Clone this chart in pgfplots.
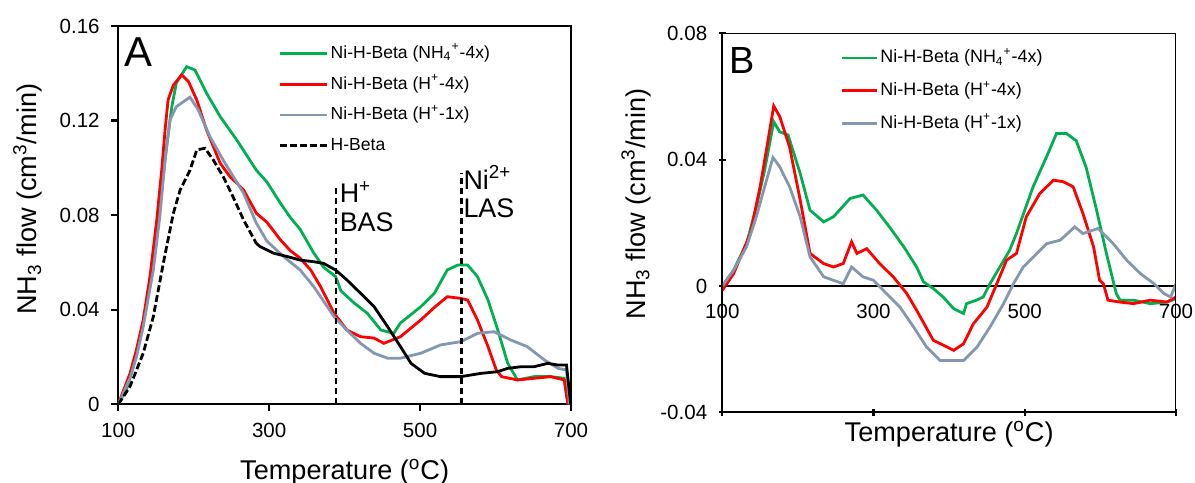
\documentclass[border=0pt]{standalone}
\usepackage{fontspec}
\setmainfont{Liberation Sans}
\usepackage{pgfplots}
\pgfplotsset{compat=1.18}
\definecolor{cgreen}{RGB}{0,176,80}
\definecolor{cred}{RGB}{255,0,0}
\definecolor{cgray}{RGB}{132,151,176}
\pgfplotsset{
  common/.style={
    scale only axis,
    xmin=100, xmax=700,
    xtick={100,300,500,700},
    scaled y ticks=false,
    tick align=outside,
    tick pos=left,
    major tick length=3.5bp,
    axis line style={line width=1.1bp},
    every tick/.style={line width=1.1bp, black},
    /pgf/number format/assume math mode=true,
    /pgf/number format/fixed,
    /pgf/number format/precision=2,
    tick label style={font=\fontsize{10.3}{12}\selectfont},
    label style={font=\fontsize{13.6}{16}\selectfont},
    legend cell align=left,
    legend image code/.code={\draw[##1] (0bp,0bp) -- (23.5bp,0bp);},
  },
  curve/.style={line width=1.4bp},
}
\begin{document}
\begin{tikzpicture}
\useasboundingbox (0,0) rectangle (597.5bp,241.5bp);
% ---------------- Panel A ----------------
\begin{axis}[common,
  at={(59.15bp,39.35bp)}, anchor=south west,
  width=226.35bp, height=189.15bp,
  ymin=0, ymax=0.16,
  ytick={0,0.04,0.08,0.12,0.16},
  xticklabel style={yshift=-2.5bp},
  yticklabel style={xshift=-2.3bp},
  xlabel={Temperature (\textsuperscript{o}C)},
  ylabel={NH\textsubscript{3} flow (cm\textsuperscript{3}/min)},
  xlabel style={at={(axis description cs:0.5,-0.2)}, anchor=base},
  ylabel style={at={(axis description cs:-0.2,0.542)}, anchor=center},
  legend style={at={(axis description cs:0.353,0.959)}, anchor=north west,
    draw=none, fill=none, inner sep=0pt, row sep=4bp,
    font=\fontsize{8.8}{10}\selectfont,
    nodes={inner sep=1.2bp, text height=7bp, text depth=2bp}},
]
\addplot[curve, cgreen] coordinates {
(100,0) (111,0.0065) (124,0.021) (133,0.034) (146.5,0.061) (155,0.0836) (164,0.109) (171,0.126) (177,0.136) (190.6,0.1428) (201.6,0.1414) (217,0.1316) (235,0.1217) (257,0.1118) (283,0.099) (297,0.094) (315,0.085) (328,0.079) (341,0.074) (359,0.064) (372,0.058) (388,0.054) (395,0.048) (412,0.043) (430,0.0385) (448,0.0314) (465,0.030) (474,0.0344) (501,0.0413) (519,0.047) (536,0.0568) (550,0.0589) (563,0.0589) (576,0.054) (590,0.0441) (603,0.0314) (616,0.0175) (629,0.0103) (651,0.0117) (673,0.0117) (691,0.011) (696,0)
};
\addlegendentry{Ni-H-Beta (NH\textsubscript{4}\textsuperscript{+}-4x)}
\addplot[curve, cred] coordinates {
(100,0) (102,0.0018) (115.5,0.013) (124,0.023) (133,0.0357) (142,0.054) (151,0.078) (157.5,0.099) (162,0.116) (166,0.1287) (173,0.135) (184,0.1393) (193,0.1365) (204,0.1287) (217,0.116) (235,0.102) (248,0.0963) (266,0.0907) (283,0.0808) (297,0.077) (315,0.0695) (328,0.065) (341,0.0618) (355,0.0568) (368,0.0498) (386,0.0385) (403,0.0314) (421,0.0286) (439,0.028) (452,0.0258) (474,0.0286) (501,0.0357) (519,0.041) (536,0.0455) (554,0.0448) (563,0.0441) (576,0.0357) (590,0.0244) (601,0.0145) (608,0.0117) (629,0.0103) (651,0.011) (673,0.0117) (691,0.0103) (696,0)
};
\addlegendentry{Ni-H-Beta (H\textsuperscript{+}-4x)}
\addplot[curve, cgray] coordinates {
(100,0) (115.5,0.011) (124,0.02) (133,0.0328) (146.4,0.0568) (155,0.0794) (162,0.1033) (168.5,0.1203) (177,0.1259) (195,0.1299) (206,0.1245) (221.5,0.1132) (239,0.1033) (266,0.0893) (283,0.0766) (297,0.069) (319,0.0625) (341,0.0568) (359,0.0498) (377,0.0413) (386,0.037) (403,0.0314) (421,0.0258) (439,0.0216) (457,0.0195) (474,0.0195) (501,0.0216) (527,0.0251) (554,0.0265) (576,0.030) (598,0.0307) (620,0.0272) (642,0.0244) (665,0.0187) (683,0.0152) (694,0.0145) (698,0)
};
\addlegendentry{Ni-H-Beta (H\textsuperscript{+}-1x)}
\addplot[curve, black, dash pattern=on 3.5bp off 1.5bp] coordinates {
(100,0) (115.5,0.0075) (133,0.0216) (146.4,0.037) (159.6,0.0596) (173,0.0808) (182,0.0907) (195,0.099) (204,0.1076) (215,0.1083) (226,0.1033) (239,0.0963) (252,0.0878) (266,0.078) (283,0.068)
};
\addlegendentry{H-Beta}
\addplot[curve, black, forget plot] coordinates {
(283,0.068) (288,0.0667) (306,0.0639) (324,0.0625) (341,0.061) (359,0.0603) (372,0.0596) (388,0.0568) (403,0.0526) (421,0.047) (439,0.0413) (457,0.0328) (474,0.0244) (488,0.0173) (506,0.0131) (527,0.0117) (554,0.0117) (581,0.0131) (603,0.0138) (616,0.0152) (634,0.0159) (651,0.0159) (669,0.0173) (683,0.0166) (694,0.0166) (700,-0.001)
};
\addplot[line width=1.2bp, black, dash pattern=on 3bp off 2bp, forget plot] coordinates {(388.5,0) (388.5,0.0927)};
\addplot[line width=1.2bp, black, dash pattern=on 3bp off 2bp, forget plot] coordinates {(554.8,0) (554.8,0.0978)};
\node[anchor=base west, inner sep=0pt, font=\fontsize{21}{24}\selectfont] at (axis description cs:0.0126,0.892) {A};
\node[anchor=base west, inner sep=0pt, font=\fontsize{13.5}{16}\selectfont] at (axis cs:393,0.0853) {H\textsuperscript{+}};
\node[anchor=base west, inner sep=0pt, font=\fontsize{13.5}{16}\selectfont] at (axis cs:393,0.0729) {BAS};
\node[anchor=base west, inner sep=0pt, font=\fontsize{13.5}{16}\selectfont] at (axis cs:557,0.0910) {Ni\textsuperscript{2+}};
\node[anchor=base west, inner sep=0pt, font=\fontsize{13.5}{16}\selectfont] at (axis cs:557,0.0790) {LAS};
\end{axis}
% ---------------- Panel B ----------------
\begin{axis}[common,
  at={(361.15bp,35.35bp)}, anchor=south west,
  width=226.85bp, height=189.5bp,
  ymin=-0.04, ymax=0.08,
  ytick={-0.04,0,0.04,0.08},
  axis x line=middle, axis y line=left,
  hide obscured x ticks=false,
  axis line style={-, line width=1.1bp},
  yticklabel style={xshift=-2.3bp},
  xticklabel style={yshift=-4bp},
  xlabel={Temperature (\textsuperscript{o}C)},
  ylabel={NH\textsubscript{3} flow (cm\textsuperscript{3}/min)},
  xlabel style={at={(axis description cs:0.5,-0.0776)}, anchor=base, font=\fontsize{13.6}{16}\selectfont},
  ylabel style={at={(axis description cs:-0.19,0.55)}, anchor=center},
  legend style={at={(axis description cs:0.259,0.966)}, anchor=north west,
    draw=none, fill=none, inner sep=0pt, row sep=5bp,
    font=\fontsize{9}{10}\selectfont,
    nodes={inner sep=1.2bp, text height=7bp, text depth=2bp}},
  legend image code/.code={\draw[#1] (0bp,0bp) -- (17.5bp,0bp);},
]
\addplot[curve, cgreen] coordinates {
(100,0) (115,0.005) (132,0.0134) (145,0.025) (156,0.0367) (168,0.052) (176,0.0488) (187,0.0478) (203,0.0356) (216,0.024) (234,0.0203) (247,0.0219) (269,0.0277) (286,0.0288) (304,0.024) (321,0.0187) (340,0.0124) (357,0.006) (366,0.0013) (379,-0.0008) (392,-0.0035) (406,-0.0072) (419,-0.0087) (423,-0.0056) (436,-0.0045) (445,-0.0035) (454,0.0007) (467,0.006) (480,0.0113) (489,0.0166) (511,0.0314) (529,0.041) (542,0.0483) (555,0.0483) (568,0.046) (581,0.0377) (595,0.024) (608,0.0103) (621,-0.0024) (626,-0.0045) (644,-0.0045) (666,-0.0056) (688,-0.0051) (700,-0.004)
};
\addlegendentry{Ni-H-Beta (NH\textsubscript{4}\textsuperscript{+}-4x)}
\addplot[curve, cred] coordinates {
(100,-0.0014) (115,0.0039) (137,0.0166) (150,0.0314) (159,0.044) (168,0.057) (176,0.0536) (189,0.044) (203,0.0272) (216,0.0103) (234,0.0071) (247,0.006) (260,0.0071) (271,0.014) (278,0.0103) (291,0.0118) (308,0.0071) (326,0.0029) (344,-0.0024) (357,-0.0077) (379,-0.0172) (397,-0.0193) (406,-0.0204) (419,-0.0183) (432,-0.012) (450,-0.0067) (463,0.0007) (476,0.0082) (489,0.0103) (502,0.0219) (520,0.0293) (538,0.0335) (551,0.033) (564,0.0314) (577,0.0229) (591,0.0124) (599,0.0018) (604,0.0007) (610,-0.0045) (626,-0.0051) (644,-0.0056) (666,-0.0045) (688,-0.0051) (700,-0.0035)
};
\addlegendentry{Ni-H-Beta (H\textsuperscript{+}-4x)}
\addplot[curve, cgray] coordinates {
(100,0) (115,0.005) (132,0.0124) (145,0.0219) (156,0.0314) (167,0.0407) (176,0.0377) (189,0.0314) (203,0.0219) (216,0.0092) (234,0.0029) (247,0.0018) (260,0.0007) (271,0.006) (286,0.0029) (300,0.0018) (313,-0.0014) (335,-0.0067) (353,-0.013) (370,-0.0193) (388,-0.0236) (406,-0.0236) (419,-0.0236) (437,-0.0193) (454,-0.013) (472,-0.0056) (485,0.0007) (498,0.006) (516,0.0103) (529,0.0134) (547,0.0145) (566,0.0187) (577,0.0166) (597,0.0182) (617,0.0134) (635,0.0081) (653,0.0039) (671,0.0007) (684,-0.0024) (693,-0.0035) (700,0.0007)
};
\addlegendentry{Ni-H-Beta (H\textsuperscript{+}-1x)}
\draw[line width=1.1bp] (rel axis cs:0,0) rectangle (rel axis cs:1,1);
\node[anchor=base west, inner sep=0pt, font=\fontsize{19}{22}\selectfont] at (axis description cs:0.0141,0.894) {B};
\end{axis}
\end{tikzpicture}
\end{document}
